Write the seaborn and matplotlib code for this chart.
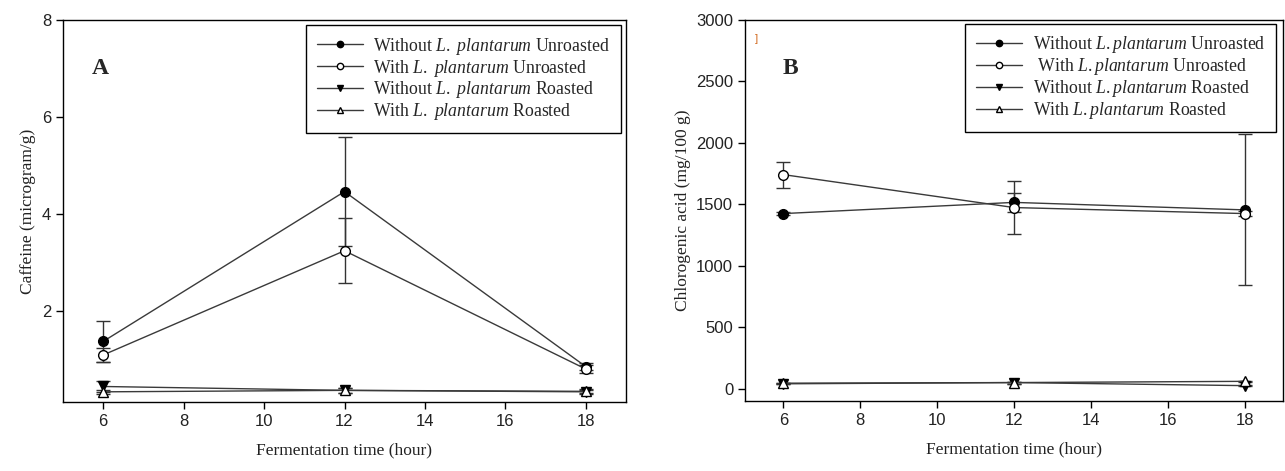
import numpy as np
import pandas as pd
import matplotlib
matplotlib.use("Agg")
import matplotlib.pyplot as plt
import seaborn as sns

# Data
hours = [6, 12, 18]

# Panel A: caffeine (microgram/g)
caf_without_unroasted = [1.37, 4.46, 0.85]
caf_with_unroasted = [1.09, 3.24, 0.80]
caf_without_roasted = [0.44, 0.36, 0.33]
caf_with_roasted = [0.33, 0.36, 0.34]
caf_err_without_unroasted = [0.42, 1.13, 0.08]
caf_err_with_unroasted = [0.15, 0.67, 0.08]
caf_err_without_roasted = [0.12, 0.05, 0.04]
caf_err_with_roasted = [0.04, 0.05, 0.04]

# Panel B: chlorogenic acid (mg/100 g)
cga_without_unroasted = [1425, 1516, 1455]
cga_with_unroasted = [1742, 1474, 1425]
cga_without_roasted = [40, 50, 25]
cga_with_roasted = [45, 50, 60]
cga_err_without_unroasted = [15, 77, 615]
cga_err_with_unroasted = [106, 214, 20]
cga_err_without_roasted = [5, 8, 5]
cga_err_with_roasted = [5, 8, 5]

labels_a = [r"Without $\mathit{L.\ plantarum}$ Unroasted",
            r"With $\mathit{L.\ plantarum}$ Unroasted",
            r"Without $\mathit{L.\ plantarum}$ Roasted",
            r"With $\mathit{L.\ plantarum}$ Roasted"]
labels_b = [r"Without $\mathit{L.plantarum}$ Unroasted",
            r" With $\mathit{L.plantarum}$ Unroasted",
            r"Without $\mathit{L.plantarum}$ Roasted",
            r"With $\mathit{L.plantarum}$ Roasted"]

sns.set_style("ticks")
plt.rcParams["font.family"] = ["Liberation Sans", "DejaVu Sans"]
plt.rcParams["mathtext.fontset"] = "custom"
plt.rcParams["mathtext.rm"] = "Liberation Serif"
plt.rcParams["mathtext.it"] = "Liberation Serif:italic"

markers = ["o", "o", "v", "^"]
faces = ["black", "white", "black", "white"]
serif = "Liberation Serif"

fig = plt.figure(figsize=(12.85, 4.71), dpi=100)
ax_a = fig.add_axes([63 / 1285, 69 / 471, 563 / 1285, 382 / 471])
ax_b = fig.add_axes([745 / 1285, 70 / 471, 538 / 1285, 381 / 471])


def draw(ax, values, errors, labels):
    for i, (vals, errs) in enumerate(zip(values, errors)):
        df = pd.DataFrame({"hour": hours, "value": vals})
        ax.errorbar(hours, vals, yerr=errs, fmt="none", ecolor="#333333",
                    elinewidth=1, capsize=5, capthick=1, zorder=2)
        sns.lineplot(data=df, x="hour", y="value", ax=ax, color="#3a3a3a",
                     lw=1, marker=markers[i], markersize=7,
                     markerfacecolor=faces[i], markeredgecolor="black",
                     markeredgewidth=1, label=labels[i], zorder=3)
    for s in ax.spines.values():
        s.set_color("black")
        s.set_linewidth(1)
    ax.set_xlim(5, 19)
    ax.set_xticks([6, 8, 10, 12, 14, 16, 18])
    ax.tick_params(direction="out", length=5, width=1, colors="black",
                   labelsize=12, labelcolor="#222222")
    ax.set_xlabel("Fermentation time (hour)", fontfamily=serif, fontsize=12.5,
                  labelpad=10, color="#222222")


draw(ax_a,
     [caf_without_unroasted, caf_with_unroasted, caf_without_roasted, caf_with_roasted],
     [caf_err_without_unroasted, caf_err_with_unroasted, caf_err_without_roasted, caf_err_with_roasted],
     labels_a)
ax_a.set_ylim(0.12, 8)
ax_a.set_yticks([2, 4, 6, 8])
ax_a.set_ylabel("Caffeine (microgram/g)", fontfamily=serif, fontsize=12.5, color="#222222")
ax_a.text(0.066, 0.874, "A", transform=ax_a.transAxes, fontfamily=serif,
          fontsize=17, fontweight="bold", ha="center", va="center")

draw(ax_b,
     [cga_without_unroasted, cga_with_unroasted, cga_without_roasted, cga_with_roasted],
     [cga_err_without_unroasted, cga_err_with_unroasted, cga_err_without_roasted, cga_err_with_roasted],
     labels_b)
ax_b.set_ylim(-100, 3000)
ax_b.set_yticks(np.arange(0, 3001, 500))
ax_b.set_ylabel("Chlorogenic acid (mg/100 g)", fontfamily=serif, fontsize=12.5, color="#222222")
ax_b.text(0.084, 0.874, "B", transform=ax_b.transAxes, fontfamily=serif,
          fontsize=17, fontweight="bold", ha="center", va="center")
ax_b.text(0.022, 0.95, "]", transform=ax_b.transAxes, fontsize=8,
          color="#d2691e", ha="center", va="center")

for ax, anchor in [(ax_a, (0.991, 0.987)), (ax_b, (0.987, 0.990))]:
    leg = ax.legend(loc="upper right", bbox_to_anchor=anchor, fancybox=False,
                    framealpha=1, edgecolor="black", markerscale=0.65,
                    handlelength=2.6, handletextpad=0.6, labelspacing=0.05,
                    borderpad=0.6, borderaxespad=0,
                    prop={"family": serif, "size": 12.8})
    leg.get_frame().set_linewidth(1)

fig.savefig("out.png", dpi=100)
